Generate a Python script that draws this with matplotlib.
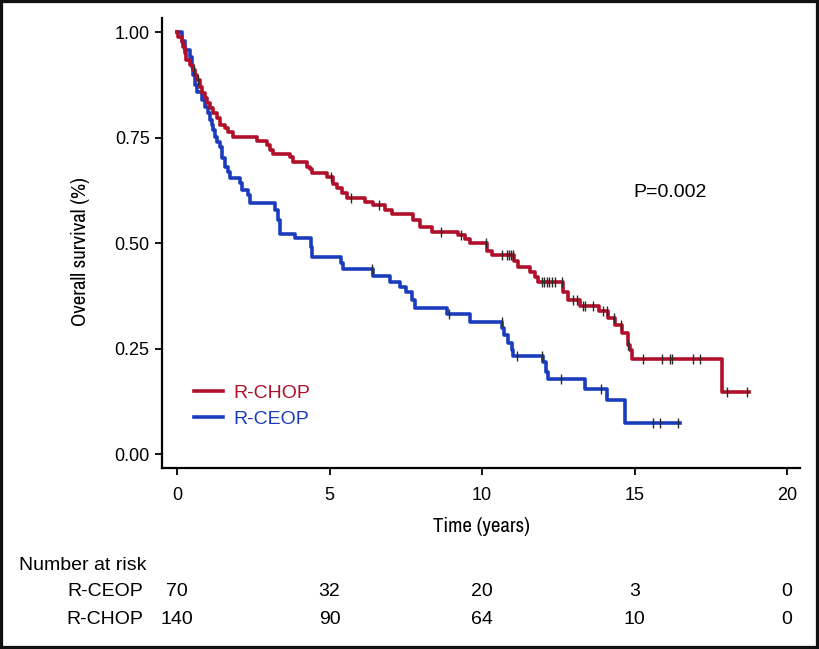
import numpy as np
import matplotlib.pyplot as plt
from matplotlib import font_manager
from matplotlib.patches import Rectangle

# Kaplan-Meier steps (time in years, survival after the step)
chop_t = [0.03, 0.16, 0.20, 0.26, 0.30, 0.43, 0.52, 0.59, 0.66, 0.75, 0.82, 0.92, 0.98,
          1.08, 1.18, 1.31, 1.41, 1.57, 1.67, 1.84, 2.61, 2.94, 3.05, 3.16, 3.70, 3.81,
          4.25, 4.36, 4.42, 4.91, 5.12, 5.24, 5.40, 5.56, 6.16, 6.43, 6.82, 7.05, 7.74,
          7.97, 8.36, 9.20, 9.44, 9.60, 10.16, 10.33, 11.05, 11.18, 11.57, 11.74, 11.84,
          12.66, 12.82, 13.21, 13.84, 14.13, 14.36, 14.59, 14.79, 14.85, 14.92, 17.87]
chop_s = [0.988, 0.976, 0.964, 0.950, 0.934, 0.922, 0.910, 0.898, 0.886, 0.870, 0.855, 0.844, 0.832,
          0.820, 0.808, 0.796, 0.780, 0.773, 0.763, 0.751, 0.742, 0.732, 0.720, 0.712, 0.705, 0.693,
          0.681, 0.675, 0.665, 0.657, 0.641, 0.630, 0.618, 0.606, 0.597, 0.590, 0.578, 0.569, 0.555,
          0.538, 0.526, 0.519, 0.509, 0.500, 0.481, 0.472, 0.458, 0.443, 0.431, 0.419, 0.408,
          0.385, 0.365, 0.351, 0.339, 0.322, 0.306, 0.287, 0.258, 0.246, 0.225, 0.147]
chop_end = 18.75
chop_cens = [0.56, 0.69, 5.04, 5.71, 6.62, 8.66, 9.30, 10.13, 10.66, 10.82, 10.88, 10.95, 11.0,
             11.97, 12.03, 12.13, 12.2, 12.3, 12.4, 12.62, 12.98, 13.1, 13.31, 13.36, 13.64,
             13.97, 14.1, 14.33, 14.56, 14.79, 15.28, 15.9, 16.16, 16.23, 16.9, 17.15, 18.03, 18.7]

ceop_t = [0.16, 0.26, 0.43, 0.49, 0.52, 0.59, 0.66, 0.82, 0.92, 1.02, 1.08, 1.15, 1.18, 1.25,
          1.31, 1.41, 1.48, 1.57, 1.67, 1.74, 2.07, 2.13, 2.33, 2.39, 3.2, 3.3, 3.38, 3.87,
          4.40, 4.43, 5.38, 5.45, 6.43, 6.98, 7.3, 7.5, 7.7, 7.8, 8.85, 9.6, 10.66, 10.72,
          10.85, 10.98, 11.02, 12.0, 12.1, 12.15, 13.38, 14.1, 14.69]
ceop_s = [0.980, 0.957, 0.940, 0.917, 0.898, 0.874, 0.858, 0.839, 0.822, 0.808, 0.791, 0.780, 0.768, 0.751,
          0.739, 0.727, 0.701, 0.680, 0.668, 0.654, 0.642, 0.626, 0.614, 0.595, 0.578, 0.555, 0.521, 0.512,
          0.490, 0.467, 0.452, 0.438, 0.422, 0.408, 0.396, 0.384, 0.365, 0.346, 0.332, 0.313, 0.299, 0.282,
          0.263, 0.246, 0.232, 0.218, 0.195, 0.178, 0.154, 0.127, 0.074]
ceop_end = 16.5
ceop_cens = [6.39, 8.92, 10.64, 11.15, 11.98, 12.58, 13.9, 15.6, 15.84, 16.43]

risk_times = [0, 5, 10, 15, 20]
risk_ceop = [70, 32, 20, 3, 0]
risk_chop = [140, 90, 64, 10, 0]

red = '#B0102A'
blue = '#1B3DBD'


def step_xy(t, s, end):
    x = np.r_[0, t, end]
    y = np.r_[1.0, s, s[-1]]
    return x, y


def surv_at(tc, t, s):
    t = np.asarray(t)
    s = np.r_[1.0, s]
    idx = np.searchsorted(t, tc, side='right')
    return s[idx]


# a condensed face for the axis titles, if one is installed
names = sorted({f.name for f in font_manager.fontManager.ttflist})
cond = [n for n in names if 'Narrow' in n or 'Condensed' in n]
narrow = cond[:1] + ['Liberation Sans', 'DejaVu Sans']

plt.rcParams['font.family'] = ['Liberation Sans', 'DejaVu Sans']
fig = plt.figure(figsize=(8.19, 6.49), dpi=100)
ax = fig.add_axes([0.198, 0.279, 0.779, 0.693])

x, y = step_xy(ceop_t, ceop_s, ceop_end)
ax.step(x, y, where='post', color=blue, lw=2.6, label='R-CEOP', zorder=2)
x, y = step_xy(chop_t, chop_s, chop_end)
ax.step(x, y, where='post', color=red, lw=2.6, label='R-CHOP', zorder=3)

ax.plot(ceop_cens, surv_at(ceop_cens, ceop_t, ceop_s), ls='none', marker='|',
        color='#2a2a2a', ms=6.5, mew=1.0, zorder=4)
ax.plot(chop_cens, surv_at(chop_cens, chop_t, chop_s), ls='none', marker='|',
        color='#2a2a2a', ms=6.5, mew=1.0, zorder=4)

ax.set_xlim(-0.49, 20.43)
ax.set_ylim(-0.033, 1.033)
ax.set_xticks(risk_times)
ax.set_yticks([0, 0.25, 0.5, 0.75, 1.0])
ax.set_yticklabels(['0.00', '0.25', '0.50', '0.75', '1.00'])
ax.tick_params(labelsize=13, length=5, width=1.3, pad=4)
ax.tick_params(axis='x', pad=9)
for sp in ['top', 'right']:
    ax.spines[sp].set_visible(False)
for sp in ['left', 'bottom']:
    ax.spines[sp].set_linewidth(1.6)

if cond:
    ax.set_xlabel('Time (years)', fontsize=15, family=narrow)
    ax.set_ylabel('Overall survival (%)', fontsize=15, family=narrow)
else:
    ax.set_xlabel('Time (years)', fontsize=12.5, family=narrow)
    ax.set_ylabel('Overall survival (%)', fontsize=12, family=narrow)
ax.xaxis.label.set_va('center')
ax.yaxis.label.set_va('center')
ax.xaxis.set_label_coords(0.5, -0.131)
ax.yaxis.set_label_coords(-0.1285, 0.48)

handles, labels = ax.get_legend_handles_labels()
ax.legend(handles[::-1], labels[::-1], loc='upper left', bbox_to_anchor=(0.05, 0.186),
          frameon=False, fontsize=14, labelcolor='linecolor', handlelength=1.5,
          handletextpad=0.5, labelspacing=0.45, borderpad=0, borderaxespad=0)

ax.text(14.95, 0.62, 'P=0.002', fontsize=14, va='center', ha='left')

# number at risk table
fig.text(19 / 819, 1 - 565 / 649, 'Number at risk', fontsize=14, va='center')
fig.text(143 / 819, 1 - 592 / 649, 'R-CEOP', fontsize=14, va='center', ha='right')
fig.text(143 / 819, 1 - 620 / 649, 'R-CHOP', fontsize=14, va='center', ha='right')
for tt, a, b in zip(risk_times, risk_ceop, risk_chop):
    xf = ax.transData.transform((tt, 0))[0] / fig.bbox.width
    fig.text(xf, 1 - 592 / 649, str(a), fontsize=14, va='center', ha='center')
    fig.text(xf, 1 - 620 / 649, str(b), fontsize=14, va='center', ha='center')

fig.patches.append(Rectangle((0, 0), 1, 1, transform=fig.transFigure, fill=False,
                             lw=4.5, ec='#111111'))

fig.savefig('out.png', dpi=100)
